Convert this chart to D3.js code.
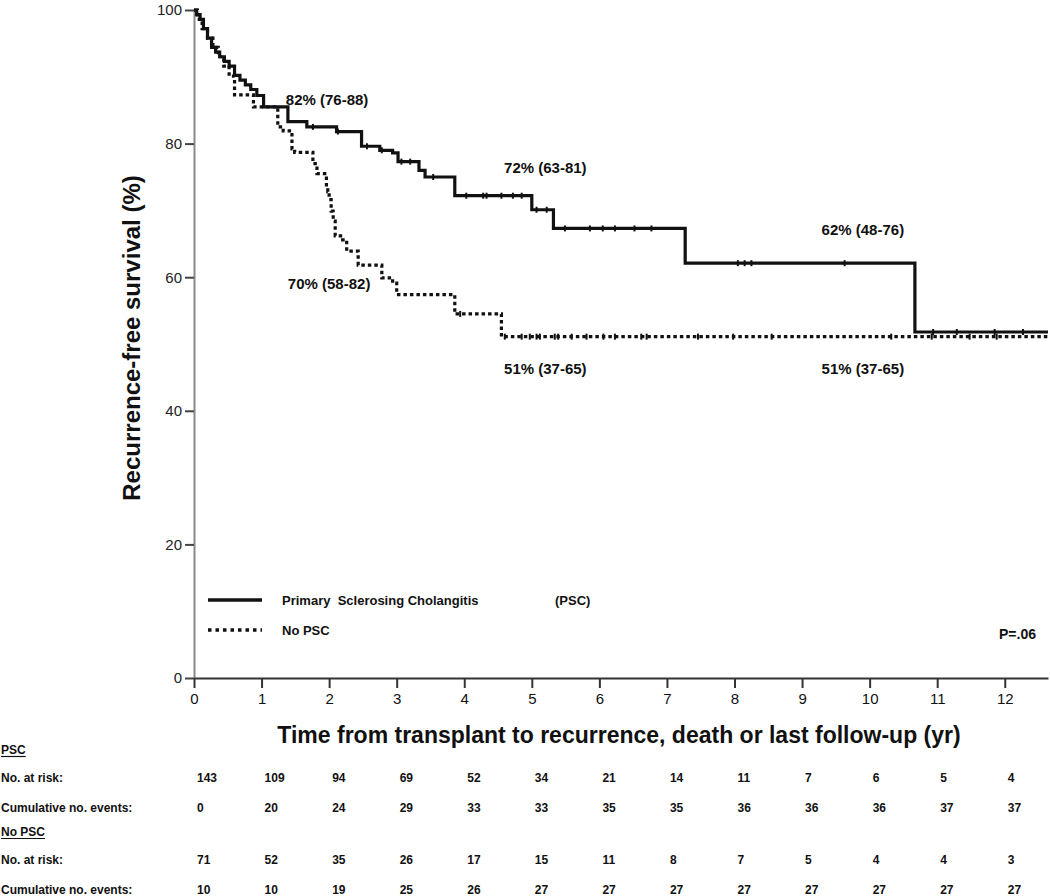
<!DOCTYPE html>
<html><head><meta charset="utf-8">
<script src="https://cdn.jsdelivr.net/npm/d3@7"></script>
<style>
html,body{margin:0;padding:0;background:#fff;}
svg{display:block;font-family:"Liberation Sans",Arial,sans-serif;}
</style></head>
<body>
<svg id="chart" width="1050" height="896"></svg>
<script>
// ---- Data ----
const pscTimes = [0, 0.04, 0.09, 0.14, 0.2, 0.26, 0.32, 0.38, 0.45, 0.52, 0.6, 0.68, 0.76, 0.84, 0.93, 1.03, 1.39, 1.67, 2.11, 2.48, 2.75, 2.94, 3.02, 3.33, 3.42, 3.86, 5.0, 5.32, 7.27, 10.67];
const pscSurv  = [100, 99.3, 98.6, 97.2, 95.8, 94.4, 93.7, 93.0, 92.3, 91.6, 90.2, 89.5, 88.8, 88.1, 87.2, 85.5, 83.3, 82.5, 81.8, 79.6, 79.0, 78.6, 77.3, 76.0, 75.0, 72.2, 70.1, 67.3, 62.1, 51.8];
const noTimes  = [0, 0.05, 0.12, 0.2, 0.28, 0.36, 0.44, 0.52, 0.6, 0.88, 1.24, 1.32, 1.45, 1.49, 1.76, 1.82, 1.96, 1.98, 2.0, 2.03, 2.06, 2.09, 2.2, 2.26, 2.43, 2.78, 2.94, 3.0, 3.86, 4.55];
const noSurv   = [100, 98.6, 97.2, 95.8, 94.4, 93.0, 91.6, 90.1, 87.3, 85.5, 82.5, 81.9, 79.2, 78.7, 77.0, 75.5, 73.4, 72.8, 71.6, 69.9, 68.4, 66.2, 65.6, 63.9, 61.8, 59.9, 59.1, 57.4, 54.5, 51.1];
const pscCensored = [1.76, 2.13, 2.56, 2.78, 3.07, 3.2, 3.54, 4.03, 4.28, 4.33, 4.55, 4.72, 4.85, 5.07, 5.22, 5.49, 5.86, 6.05, 6.23, 6.52, 6.77, 8.05, 8.15, 8.25, 9.63, 10.94, 11.29, 11.85, 12.27];
const noCensored  = [3.94, 4.6, 4.85, 4.97, 5.07, 5.12, 5.34, 5.39, 5.59, 5.81, 6.06, 6.23, 6.62, 6.7, 7.46, 7.98, 8.55, 10.32, 10.92, 11.48, 11.88];
const xTicks = [0,1,2,3,4,5,6,7,8,9,10,11,12];
const yTicks = [0,20,40,60,80,100];
const maxTime = 12.64;
const annotations = [
  {t: 1.97, s: 86.5, label: "82% (76-88)"},
  {t: 5.2, s: 76.4, label: "72% (63-81)"},
  {t: 9.9, s: 67.0, label: "62% (48-76)"},
  {t: 2.0, s: 59.0, label: "70% (58-82)"},
  {t: 5.2, s: 46.2, label: "51% (37-65)"},
  {t: 9.9, s: 46.2, label: "51% (37-65)"}
];
const legendLabels = ["Primary  Sclerosing Cholangitis", "No PSC"];
const pValue = "P=.06";
const groupNames = ["PSC", "No PSC"];
const rowLabels = ["No. at risk:", "Cumulative no. events:"];
const pscAtRisk = [143,109,94,69,52,34,21,14,11,7,6,5,4];
const pscEvents = [0,20,24,29,33,33,35,35,36,36,36,37,37];
const noAtRisk  = [71,52,35,26,17,15,11,8,7,5,4,4,3];
const noEvents  = [10,10,19,25,26,27,27,27,27,27,27,27,27];

// ---- Chart ----
const svg = d3.select("#chart");
const x = d3.scaleLinear().domain([0, maxTime]).range([194, 1048]);
const y = d3.scaleLinear().domain([0, 100]).range([678, 10]);

// y axis
const yAxis = svg.append("g").attr("transform", `translate(${x(0)},0)`)
  .call(d3.axisLeft(y).tickValues(yTicks).tickSize(9).tickPadding(3).tickSizeOuter(0));
yAxis.select(".domain").attr("stroke", "#8a8a8a").attr("stroke-width", 2);
yAxis.selectAll(".tick line").attr("stroke", "#444").attr("stroke-width", 2);
yAxis.selectAll(".tick text").attr("font-size", 15).attr("fill", "#222").attr("font-family", "Liberation Sans, Arial, sans-serif");

// x axis
const xAxis = svg.append("g").attr("transform", `translate(0,${y(0)})`)
  .call(d3.axisBottom(x).tickValues(xTicks).tickSize(10).tickPadding(5).tickSizeOuter(0));
xAxis.select(".domain").attr("stroke", "#333").attr("stroke-width", 2);
xAxis.selectAll(".tick line").attr("stroke", "#333").attr("stroke-width", 2);
xAxis.selectAll(".tick text").attr("font-size", 15).attr("fill", "#111").attr("font-family", "Liberation Sans, Arial, sans-serif");

// axis titles
svg.append("text").attr("transform", `translate(140,${y(50)-6}) rotate(-90)`)
  .attr("text-anchor", "middle").attr("font-size", 24).attr("font-weight", "bold").attr("fill", "#111")
  .text("Recurrence-free survival (%)");
svg.append("text").attr("x", 619).attr("y", 743)
  .attr("text-anchor", "middle").attr("font-size", 23).attr("font-weight", "bold").attr("fill", "#111")
  .text("Time from transplant to recurrence, death or last follow-up (yr)");

// curves
function pts(times, surv) {
  const p = times.map((t, i) => [t, surv[i]]);
  p.push([maxTime, surv[surv.length - 1]]);
  return p;
}
const line = d3.line().x(d => x(d[0])).y(d => y(d[1])).curve(d3.curveStepAfter);
svg.append("path").datum(pts(noTimes, noSurv)).attr("d", line)
  .attr("fill", "none").attr("stroke", "#111").attr("stroke-width", 3.2).attr("stroke-dasharray", "3.5,3");
svg.append("path").datum(pts(pscTimes, pscSurv)).attr("d", line)
  .attr("fill", "none").attr("stroke", "#111").attr("stroke-width", 3.2);

function survAt(times, surv, t) {
  let s = surv[0];
  for (let i = 0; i < times.length; i++) if (times[i] <= t) s = surv[i];
  return s;
}
function censor(times, surv, cens) {
  svg.append("g").selectAll("line").data(cens).join("line")
    .attr("x1", d => x(d)).attr("x2", d => x(d))
    .attr("y1", d => y(survAt(times, surv, d)) - 3)
    .attr("y2", d => y(survAt(times, surv, d)) + 3)
    .attr("stroke", "#111").attr("stroke-width", 2);
}
censor(pscTimes, pscSurv, pscCensored);
censor(noTimes, noSurv, noCensored);

// annotations
svg.append("g").selectAll("text").data(annotations).join("text")
  .attr("x", d => x(d.t)).attr("y", d => y(d.s) + 5)
  .attr("text-anchor", "middle").attr("font-size", 15).attr("font-weight", "bold").attr("fill", "#111")
  .text(d => d.label);

// legend
const lg = svg.append("g");
lg.append("line").attr("x1", 208).attr("x2", 262).attr("y1", 600).attr("y2", 600)
  .attr("stroke", "#111").attr("stroke-width", 3.5);
lg.append("line").attr("x1", 208).attr("x2", 262).attr("y1", 630).attr("y2", 630)
  .attr("stroke", "#111").attr("stroke-width", 3.5).attr("stroke-dasharray", "3.5,4");
lg.append("text").attr("x", 282).attr("y", 605).attr("font-size", 13).attr("font-weight", "bold")
  .attr("fill", "#111").attr("xml:space", "preserve").text(legendLabels[0]);
lg.append("text").attr("x", 555).attr("y", 605).attr("font-size", 13).attr("font-weight", "bold")
  .attr("fill", "#111").text("(PSC)");
lg.append("text").attr("x", 282).attr("y", 635).attr("font-size", 13).attr("font-weight", "bold")
  .attr("fill", "#111").text(legendLabels[1]);
svg.append("text").attr("x", 1036).attr("y", 639).attr("text-anchor", "end")
  .attr("font-size", 14).attr("font-weight", "bold").attr("fill", "#111").text(pValue);

// risk table
const tbl = svg.append("g").attr("font-size", 12).attr("font-weight", "bold").attr("fill", "#111");
const groups = [
  {name: groupNames[0], y: 754, rows: [pscAtRisk, pscEvents], ry: [782, 812]},
  {name: groupNames[1], y: 836, rows: [noAtRisk, noEvents], ry: [864, 894]}
];
groups.forEach(g => {
  const t = tbl.append("text").attr("x", 1).attr("y", g.y).text(g.name);
  const w = t.node().getComputedTextLength();
  tbl.append("line").attr("x1", 1).attr("x2", 1 + w).attr("y1", g.y + 2.5).attr("y2", g.y + 2.5)
    .attr("stroke", "#111").attr("stroke-width", 1.2);
  g.rows.forEach((vals, ri) => {
    tbl.append("text").attr("x", 1).attr("y", g.ry[ri]).text(rowLabels[ri]);
    tbl.append("g").selectAll("text").data(vals).join("text")
      .attr("x", (d, i) => x(xTicks[i]) + 3).attr("y", g.ry[ri])
      .attr("font-size", 12).text(d => d);
  });
});
</script>
</body></html>
